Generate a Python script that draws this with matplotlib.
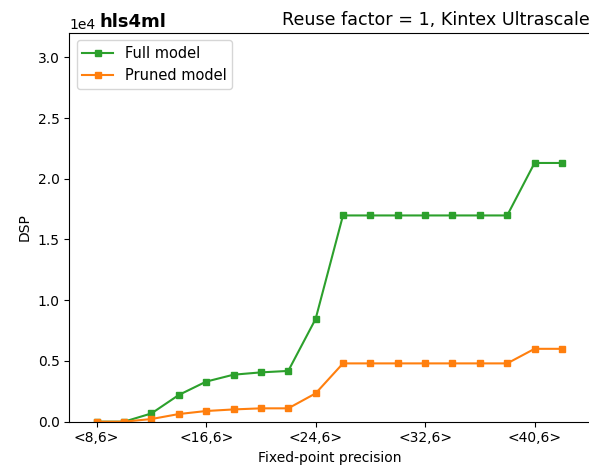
import matplotlib.pyplot as plt

# 数据: 定点精度 <W,6>, W 从 8 到 42
widths = [8, 10, 12, 14, 16, 18, 20, 22, 24, 26, 28, 30, 32, 34, 36, 38, 40, 42]
full_dsp = [0, 0, 680, 2200, 3300, 3870, 4060, 4180, 8460, 16980, 16980, 16980,
            16980, 16980, 16980, 16980, 21300, 21300]
pruned_dsp = [0, 0, 220, 630, 880, 1010, 1100, 1100, 2330, 4800, 4800, 4800,
              4800, 4800, 4800, 4800, 6000, 6000]
tick_widths = [8, 16, 24, 32, 40]
tick_labels = ['<%d,6>' % w for w in tick_widths]

fig = plt.figure(figsize=(5.89, 4.66), dpi=100)
ax = fig.add_axes([69.3 / 589, 44.3 / 466, 520 / 589, 388.7 / 466])

ax.plot(widths, full_dsp, color='#2ca02c', marker='s', markersize=5, label='Full model')
ax.plot(widths, pruned_dsp, color='#ff7f0e', marker='s', markersize=5, label='Pruned model')

ax.set_xlim(6, 44)
ax.set_ylim(0, 32000)
ax.set_xticks(tick_widths)
ax.set_xticklabels(tick_labels)
ax.ticklabel_format(axis='y', style='sci', scilimits=(0, 0))
# 原图右侧被裁掉, 看不到右边框
ax.spines['right'].set_visible(False)

ax.set_xlabel('Fixed-point precision', fontsize=10)
ax.set_ylabel('DSP', fontsize=10)
ax.tick_params(labelsize=10)

ax.set_title('Reuse factor = 1, Kintex Ultrascale', loc='right', fontsize=12.6)
ax.text(0.058, 1.015, 'hls4ml', transform=ax.transAxes, fontsize=13, fontweight='bold')

ax.legend(loc='upper left', fontsize=10.5, handlelength=2.1)

fig.savefig('out.png', dpi=100)
